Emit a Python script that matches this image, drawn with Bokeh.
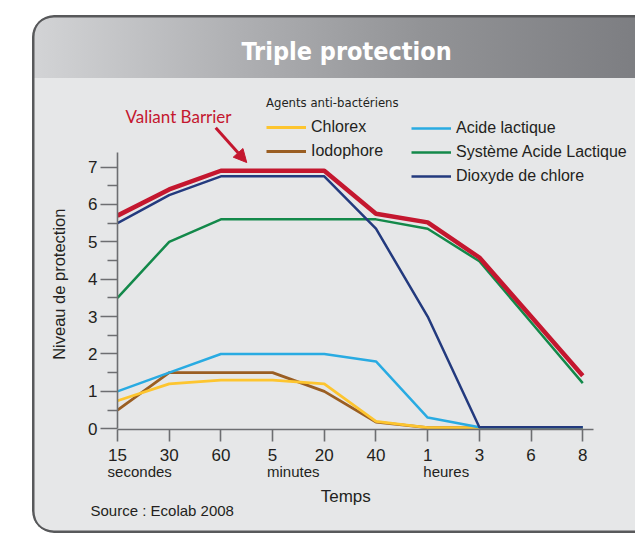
from bokeh.plotting import figure
from bokeh.models import (Range1d, FixedTicker, LinearAxis, Label, Legend, LegendItem,
                          Arrow, NormalHead, Title)
from bokeh.embed import file_html
from bokeh.resources import INLINE

# ---------------- data ----------------
time_labels = ["15", "30", "60", "5", "20", "40", "1", "3", "6", "8"]
unit_labels = ["secondes", "minutes", "heures"]
unit_pos = [0.43, 3.4, 6.36]
y_ticks = [0, 1, 2, 3, 4, 5, 6, 7]

valiant = [5.7, 6.4, 6.9, 6.9, 6.9, 5.75, 5.52, 4.58, 3.0, 1.42]
dioxyde = [5.5, 6.25, 6.75, 6.75, 6.75, 5.35, 3.0, 0.04, 0.04, 0.04]
systeme = [3.5, 5.0, 5.6, 5.6, 5.6, 5.6, 5.35, 4.48, 2.85, 1.22]
acide = [1.0, 1.5, 2.0, 2.0, 2.0, 1.8, 0.3, 0.04, 0.04, 0.04]
chlorex = [0.75, 1.2, 1.3, 1.3, 1.2, 0.2, 0.03, 0.03, 0.03, 0.03]
iodophore = [0.5, 1.5, 1.5, 1.5, 1.0, 0.18, 0.03, 0.03, 0.03, 0.03]

xs = list(range(len(time_labels)))

RED = "#c4172f"
NAVY = "#233a7e"
GREEN = "#13894a"
SKY = "#29abe2"
YELLOW = "#fdc52f"
BROWN = "#9a5e22"
TXT = "#231f20"
AX = "#6d6e71"
BODY = "#e6e7e8"
COND = "DejaVu Sans Condensed"
NB = "\u00a0"

W, H = 603, 518
p = figure(width=W, height=H, x_range=Range1d(0, 10.02), y_range=Range1d(-0.02, 9.1),
           output_backend="svg", toolbar_location=None,
           min_border_left=85, min_border_right=0, min_border_top=73, min_border_bottom=104)
p.border_fill_alpha = 0
p.background_fill_alpha = 0
p.outline_line_color = None
p.grid.visible = False
p.styles = {
    "margin-left": "32px",
    "margin-top": "15px",
    "border-radius": "22px 0 0 22px",
    "overflow": "hidden",
    "background": "linear-gradient(to right, #d3d4d6 0%, #aeafb2 35%, #929396 65%, #7d7e82 100%) 0 0 / 100% 63px no-repeat, " + BODY,
    "box-shadow": "inset 2.5px 0 0 #58595b, inset 0 2.5px 0 #58595b, inset 0 -2.5px 0 #58595b",
}

# ---------------- title ----------------
p.title.text = "Triple protection"
p.title.align = "left"
p.title.vertical_align = "top"
p.title.text_color = "white"
p.title.text_font = COND
p.title.text_font_style = "bold"
p.title.text_font_size = "25px"
p.title.standoff = 41
p.title.offset = 124

# ---------------- axes ----------------
p.xaxis.ticker = FixedTicker(ticks=xs)
p.xaxis.major_label_overrides = {i: l for i, l in enumerate(time_labels)}
p.xaxis.bounds = (0, 9.2)
p.xaxis.major_tick_out = 12
p.xaxis.major_tick_in = 0
p.xaxis.minor_tick_out = 0
p.xaxis.major_label_standoff = 7
p.yaxis.ticker = FixedTicker(ticks=y_ticks, minor_ticks=[v + 0.5 for v in y_ticks[:-1]])
p.yaxis.bounds = (0, 7.38)
p.yaxis.major_tick_out = 17
p.yaxis.major_tick_in = 0
p.yaxis.minor_tick_out = 10
p.yaxis.minor_tick_in = 0
p.yaxis.major_label_standoff = 3
p.yaxis.axis_label = "Niveau de protection" + NB * 11
p.yaxis.axis_label_standoff = 17
p.yaxis.axis_label_text_font = "Liberation Sans"
p.yaxis.axis_label_text_font_size = "16.5px"
p.yaxis.axis_label_text_font_style = "normal"
p.yaxis.axis_label_text_color = TXT
for ax in (p.xaxis, p.yaxis):
    ax.axis_line_color = AX
    ax.axis_line_width = 1.6
    ax.major_tick_line_color = AX
    ax.major_tick_line_width = 1.6
    ax.minor_tick_line_color = AX
    ax.minor_tick_line_width = 1.6
    ax.major_label_text_font = "Liberation Sans"
    ax.major_label_text_font_size = "17px"
    ax.major_label_text_color = TXT

unit_axis = LinearAxis(ticker=FixedTicker(ticks=unit_pos),
                       major_label_overrides={v: l for v, l in zip(unit_pos, unit_labels)},
                       bounds=(0, 8.82))
unit_axis.axis_line_color = None
unit_axis.major_tick_line_color = None
unit_axis.minor_tick_line_color = None
unit_axis.major_label_standoff = -7
unit_axis.major_label_text_font = "Liberation Sans"
unit_axis.major_label_text_font_size = "15px"
unit_axis.major_label_text_color = TXT
unit_axis.axis_label = "Temps" + NB * 13
unit_axis.axis_label_standoff = 4
unit_axis.axis_label_text_font = "Liberation Sans"
unit_axis.axis_label_text_font_size = "17px"
unit_axis.axis_label_text_font_style = "normal"
unit_axis.axis_label_text_color = TXT
p.add_layout(unit_axis, "below")

src = Title(text="Source : Ecolab 2008", align="left", offset=-27, standoff=-17,
            text_font="Liberation Sans", text_font_size="15px", text_font_style="normal",
            text_color=TXT)
p.add_layout(src, "below")

# ---------------- lines ----------------
r_io = p.line(xs, iodophore, line_color=BROWN, line_width=2.8)
r_ch = p.line(xs, chlorex, line_color=YELLOW, line_width=2.8)
r_ac = p.line(xs, acide, line_color=SKY, line_width=2.5)
r_sy = p.line(xs, systeme, line_color=GREEN, line_width=2.5)
r_di = p.line(xs, dioxyde, line_color=NAVY, line_width=2.5)
r_va = p.line(xs, valiant, line_color=RED, line_width=4.5)

# ---------------- legends ----------------
def style_leg(leg):
    leg.border_line_color = None
    leg.background_fill_alpha = 0
    leg.padding = 0
    leg.margin = 0
    leg.spacing = 4
    leg.label_height = 20
    leg.glyph_height = 20
    leg.glyph_width = 40
    leg.label_standoff = 5
    leg.label_text_font = "Liberation Sans"
    leg.label_text_font_size = "16px"
    leg.label_text_color = TXT
    leg.title_text_font = COND
    leg.title_text_font_size = "13px"
    leg.title_text_font_style = "normal"
    leg.title_text_color = TXT
    leg.title_standoff = 7

leg1 = Legend(items=[LegendItem(label="Chlorex", renderers=[r_ch]),
                     LegendItem(label="Iodophore", renderers=[r_io])],
              title="Agents anti-bactériens", location=(149, 268))
leg2 = Legend(items=[LegendItem(label="Acide lactique", renderers=[r_ac]),
                     LegendItem(label="Système Acide Lactique", renderers=[r_sy]),
                     LegendItem(label="Dioxyde de chlore", renderers=[r_di])],
              location=(294, 243))
style_leg(leg1)
style_leg(leg2)
p.add_layout(leg1)
p.add_layout(leg2)

# ---------------- annotation ----------------
p.add_layout(Label(x=1.18, y=8.34, text="Valiant Barrier", text_font="Lato", text_font_size="17px",
                   text_color=RED, text_align="center", text_baseline="middle"))
p.add_layout(Arrow(x_start=1.9, y_start=8.05, x_end=2.5, y_end=valiant[2] + 0.22,
                   line_color=RED, line_width=3,
                   end=NormalHead(size=13, fill_color=RED, line_color=RED)))

open("out.html", "w").write(file_html(p, INLINE))
